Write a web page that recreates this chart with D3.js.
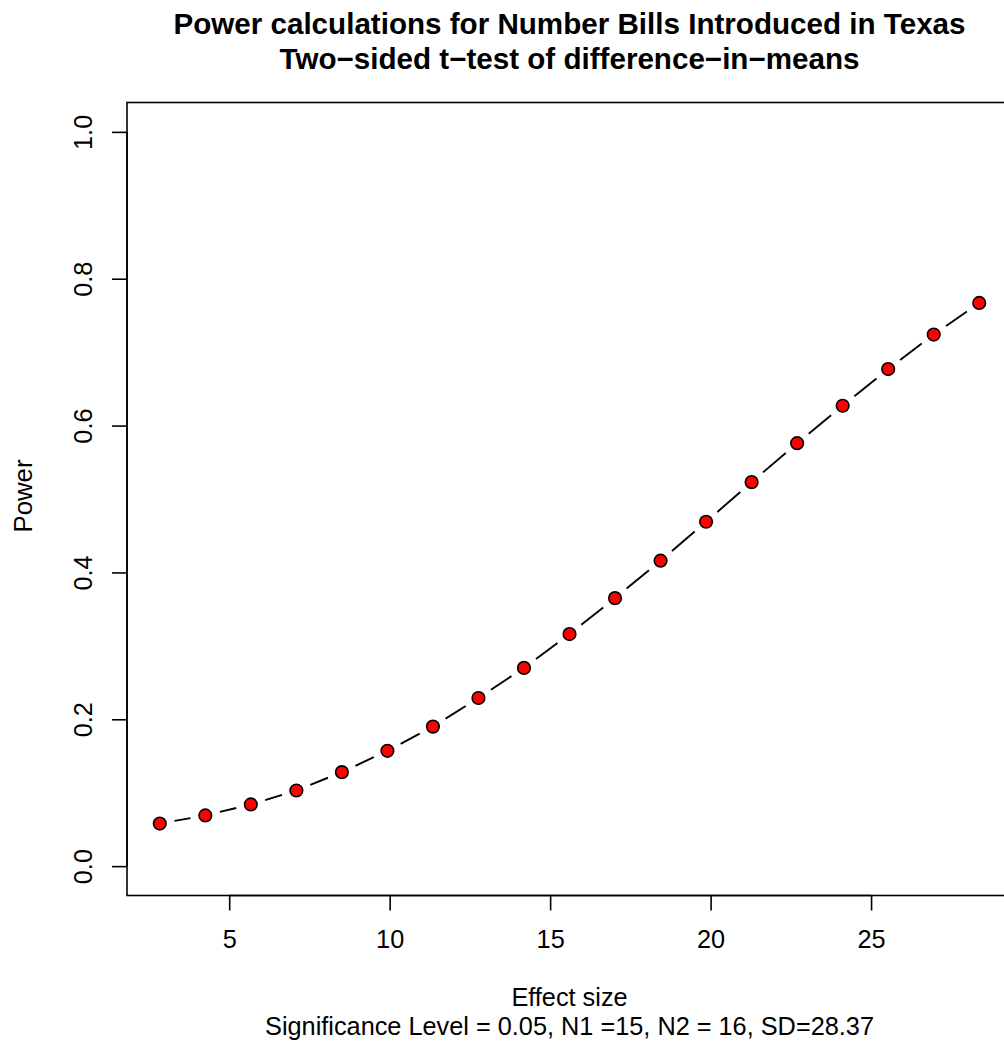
<!DOCTYPE html>
<html>
<head>
<meta charset="utf-8">
<script src="https://cdn.jsdelivr.net/npm/d3@7"></script>
<style>
  body { margin: 0; background: #fff; }
  svg text { font-family: "Liberation Sans", Arial, Helvetica, sans-serif; fill: #000; }
</style>
</head>
<body>
<div id="viz"></div>
<script>
// effect sizes (0.10 .. 1.00 x SD) and the power
var effectSize = [2.837, 4.256, 5.674, 7.093, 8.511, 9.930, 11.348, 12.767, 14.185, 15.604,
                  17.022, 18.441, 19.859, 21.278, 22.696, 24.115, 25.533, 26.952, 28.370];
var power = [0.058, 0.069, 0.084, 0.103, 0.128, 0.157, 0.190, 0.229, 0.270, 0.316,
             0.365, 0.416, 0.469, 0.523, 0.576, 0.627, 0.677, 0.724, 0.767];
var xTicks = [5, 10, 15, 20, 25];
var yTicks = [0, 0.2, 0.4, 0.6, 0.8, 1.0];

var titleLines = ["Power calculations for Number Bills Introduced in Texas",
                  "Two\u2212sided t\u2212test of difference\u2212in\u2212means"];
var xLabel = "Effect size";
var subLabel = "Significance Level = 0.05, N1 =15, N2 = 16, SD=28.37";
var yLabel = "Power";

const W = 1004, H = 1053;
const plot = {left: 127, right: 1012, top: 102.5, bottom: 895.5};
const fs = 25.3;
const gap = 15;   // type="b": segments stop short of each point

const svg = d3.select("#viz")
  .append("svg")
    .attr("width", W)
    .attr("height", H);

// R-style 4% padding around the data range
const xr = d3.extent(effectSize), xpad = (xr[1] - xr[0]) * 0.04;
const x = d3.scaleLinear()
    .domain([xr[0] - xpad, xr[1] + xpad])
    .range([plot.left, plot.right]);

const y = d3.scaleLinear()
    .domain([-0.04, 1.04])
    .range([plot.bottom, plot.top]);

// box
svg.append("rect")
    .attr("x", plot.left)
    .attr("y", plot.top)
    .attr("width", plot.right - plot.left)
    .attr("height", plot.bottom - plot.top)
    .attr("fill", "none")
    .attr("stroke", "#000")
    .attr("stroke-width", 1.6);

// x axis
const xAxis = svg.append("g")
    .attr("transform", `translate(0,${plot.bottom})`)
    .call(d3.axisBottom(x).tickValues(xTicks).tickSize(15).tickPadding(20).tickFormat(d3.format("d")));
xAxis.select(".domain")
    .attr("d", `M${x(xTicks[0])},0H${x(xTicks[xTicks.length - 1])}`)
    .attr("stroke-width", 1.6);
xAxis.selectAll(".tick line").attr("stroke-width", 1.6);
xAxis.selectAll(".tick text")
    .attr("font-size", fs)
    .attr("font-family", "Liberation Sans, Arial, sans-serif");

// y axis
const yAxis = svg.append("g")
    .attr("transform", `translate(${plot.left},0)`)
    .call(d3.axisLeft(y).tickValues(yTicks).tickSize(15).tickPadding(0).tickFormat(d3.format(".1f")));
yAxis.select(".domain")
    .attr("d", `M0,${y(yTicks[0])}V${y(yTicks[yTicks.length - 1])}`)
    .attr("stroke-width", 1.6);
yAxis.selectAll(".tick line").attr("stroke-width", 1.6);
yAxis.selectAll(".tick text")
    .attr("font-size", fs)
    .attr("font-family", "Liberation Sans, Arial, sans-serif")
    .attr("x", null)
    .attr("dy", null)
    .attr("text-anchor", "middle")
    .attr("transform", "translate(-35,0) rotate(-90)")
    .attr("y", 0);

// line pieces between neighbouring points, trimmed near each point
const pts = effectSize.map(function(d, i) { return {x: d, y: power[i]}; });
const segs = d3.pairs(pts).map(function(p) {
  const x0 = x(p[0].x), y0 = y(p[0].y), x1 = x(p[1].x), y1 = y(p[1].y);
  const len = Math.hypot(x1 - x0, y1 - y0), ux = (x1 - x0) / len, uy = (y1 - y0) / len;
  return [x0 + ux * gap, y0 + uy * gap, x1 - ux * gap, y1 - uy * gap];
});
svg.append("g")
  .selectAll("line")
  .data(segs)
  .join("line")
    .attr("x1", function(d) { return d[0]; })
    .attr("y1", function(d) { return d[1]; })
    .attr("x2", function(d) { return d[2]; })
    .attr("y2", function(d) { return d[3]; })
    .attr("stroke", "#000")
    .attr("stroke-width", 1.9);

// points
svg.append("g")
  .selectAll("circle")
  .data(pts)
  .join("circle")
    .attr("cx", function(d) { return x(d.x); })
    .attr("cy", function(d) { return y(d.y); })
    .attr("r", 6.3)
    .attr("fill", "#ff0000")
    .attr("stroke", "#000")
    .attr("stroke-width", 1.6);

// titles and labels
const cx = (plot.left + plot.right) / 2;
function hText(str, ty, size, bold) {
  svg.append("text")
      .attr("x", cx).attr("y", ty)
      .attr("text-anchor", "middle")
      .attr("font-size", size)
      .attr("font-weight", bold ? "bold" : null)
      .text(str);
}
hText(titleLines[0], 34, 29.6, true);
hText(titleLines[1], 69, 29.6, true);
hText(xLabel, 1006, fs, false);
hText(subLabel, 1035, fs, false);

svg.append("text")
    .attr("transform", `translate(32,${(plot.top + plot.bottom) / 2 - 3}) rotate(-90)`)
    .attr("text-anchor", "middle")
    .attr("font-size", fs + 0.5)
    .text(yLabel);
</script>
</body>
</html>
